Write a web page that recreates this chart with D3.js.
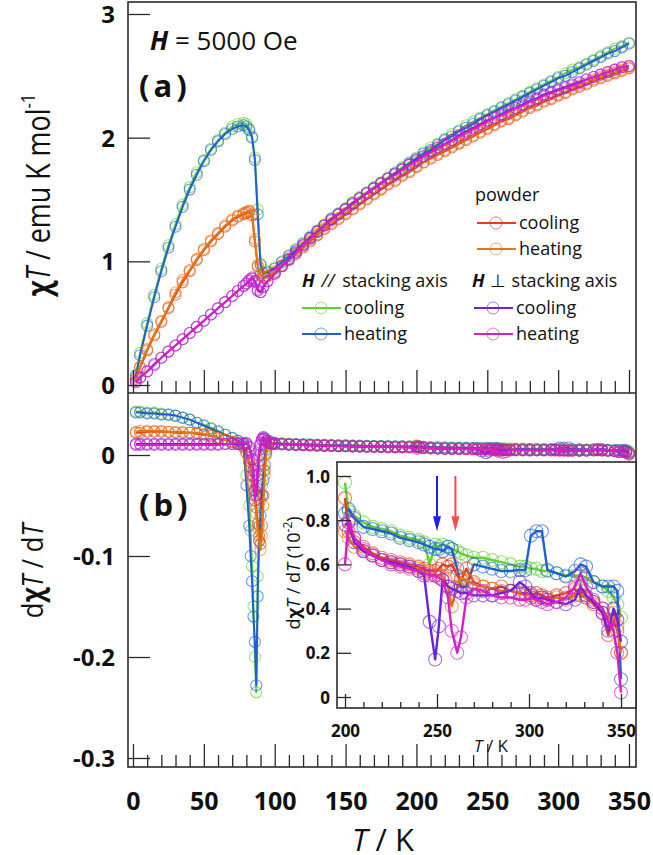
<!DOCTYPE html>
<html>
<head>
<meta charset="utf-8">
<script src="https://cdn.jsdelivr.net/npm/d3@7"></script>
<style>
  body { margin: 0; background: #fff; }
  svg text { font-family: "Open Sans", sans-serif; fill: #111; }
</style>
</head>
<body>
<script>
// ---- panel (a): chi*T vs T ----
var tempA = [2,5,10,15,20,25,30,35,40,45,50,55,60,65,70,74,78,80,82,84,86,88,90,92,95,
  100,105,110,115,120,125,130,135,140,145,150,155,160,165,170,175,180,185,190,195,
  200,205,210,215,220,225,230,235,240,245,250,255,260,265,270,275,280,285,290,295,
  300,305,310,315,320,325,330,335,340,345,350];

var chiT_paraCool = [0.08,0.26,0.50,0.73,0.94,1.13,1.30,1.46,1.60,1.72,1.82,1.91,1.98,2.04,2.09,2.11,2.12,2.11,2.07,2.01,1.84,1.42,0.98,0.91,0.92,
  0.95,1.00,1.05,1.10,1.15,1.20,1.25,1.30,1.35,1.39,1.43,1.48,1.52,1.56,1.60,1.64,1.68,1.72,1.76,1.80,
  1.84,1.88,1.92,1.95,1.99,2.03,2.06,2.10,2.13,2.16,2.19,2.22,2.25,2.28,2.31,2.34,2.37,2.40,2.43,2.46,
  2.49,2.52,2.55,2.57,2.60,2.63,2.66,2.69,2.72,2.74,2.77];
var chiT_paraHeat = [0.07,0.24,0.48,0.71,0.92,1.11,1.28,1.44,1.58,1.70,1.81,1.90,1.97,2.03,2.07,2.09,2.10,2.09,2.06,2.00,1.82,1.38,0.97,0.90,0.91,
  0.94,0.99,1.04,1.09,1.14,1.19,1.24,1.29,1.34,1.38,1.42,1.47,1.51,1.55,1.59,1.63,1.67,1.71,1.75,1.79,
  1.83,1.87,1.90,1.94,1.98,2.01,2.05,2.08,2.11,2.15,2.18,2.21,2.24,2.27,2.30,2.33,2.36,2.39,2.42,2.45,
  2.48,2.50,2.53,2.56,2.59,2.62,2.65,2.68,2.70,2.73,2.76];
var chiT_powderCool = [0.05,0.14,0.28,0.40,0.51,0.62,0.73,0.83,0.92,1.01,1.09,1.16,1.22,1.28,1.33,1.36,1.38,1.39,1.40,1.37,1.16,0.96,0.89,0.87,0.88,
  0.91,0.96,1.01,1.06,1.11,1.16,1.21,1.26,1.30,1.34,1.38,1.42,1.46,1.50,1.54,1.58,1.62,1.65,1.69,1.72,
  1.76,1.80,1.83,1.86,1.89,1.92,1.95,1.98,2.01,2.04,2.07,2.10,2.13,2.15,2.18,2.21,2.24,2.26,2.29,2.31,
  2.34,2.36,2.39,2.41,2.43,2.46,2.48,2.50,2.52,2.54,2.56];
var chiT_powderHeat = [0.05,0.15,0.29,0.41,0.52,0.63,0.75,0.85,0.93,1.02,1.10,1.17,1.23,1.29,1.34,1.37,1.39,1.40,1.41,1.38,1.18,0.97,0.89,0.87,0.88,
  0.92,0.97,1.02,1.07,1.12,1.17,1.22,1.27,1.31,1.35,1.39,1.43,1.47,1.51,1.55,1.59,1.63,1.66,1.70,1.73,
  1.77,1.80,1.84,1.87,1.90,1.93,1.96,1.99,2.02,2.05,2.08,2.11,2.14,2.16,2.19,2.22,2.25,2.27,2.30,2.32,
  2.35,2.37,2.40,2.42,2.44,2.47,2.49,2.51,2.53,2.55,2.57];
var chiT_perpCool = [0.03,0.06,0.11,0.17,0.22,0.27,0.32,0.37,0.42,0.47,0.52,0.57,0.62,0.67,0.72,0.76,0.80,0.82,0.84,0.86,0.84,0.77,0.75,0.79,0.84,
  0.90,0.96,1.02,1.08,1.13,1.19,1.24,1.29,1.34,1.38,1.42,1.47,1.51,1.55,1.59,1.63,1.67,1.71,1.74,1.78,
  1.82,1.85,1.89,1.92,1.95,1.98,2.02,2.05,2.08,2.11,2.14,2.16,2.19,2.22,2.24,2.27,2.30,2.32,2.35,2.37,
  2.39,2.41,2.43,2.45,2.47,2.49,2.51,2.53,2.55,2.57,2.58];
var chiT_perpHeat = [0.02,0.06,0.11,0.16,0.22,0.27,0.32,0.37,0.42,0.47,0.52,0.57,0.62,0.67,0.72,0.76,0.80,0.82,0.85,0.87,0.83,0.76,0.75,0.80,0.84,
  0.90,0.96,1.01,1.07,1.13,1.18,1.24,1.29,1.33,1.38,1.42,1.46,1.51,1.55,1.59,1.63,1.67,1.70,1.74,1.78,
  1.81,1.85,1.88,1.92,1.95,1.98,2.01,2.04,2.07,2.10,2.13,2.16,2.18,2.21,2.24,2.26,2.29,2.31,2.34,2.36,
  2.38,2.40,2.42,2.44,2.47,2.49,2.51,2.53,2.55,2.57,2.58];

// ---- panel (b): d(chi*T)/dT below 200 K ----
var tempB = [2,5,10,15,20,25,30,35,40,45,50,55,60,65,70,74,78,
  80,82,83,84,85,86,87,88,89,90,91,92,93,94,96,98,100,
  105,110,115,120,125,130,135,140,145,150,155,160,165,170,175,180,185,190,195];

var dchiT_paraCool = [0.043,0.043,0.042,0.042,0.041,0.040,0.039,0.037,0.035,0.032,0.030,0.027,0.024,0.020,0.017,0.014,0.010,
  -0.020,-0.050,-0.075,-0.110,-0.150,-0.200,-0.235,-0.120,-0.070,-0.045,-0.030,-0.015,0.000,0.008,0.013,0.012,0.012,
  0.0115,0.0112,0.0109,0.0107,0.0105,0.0103,0.0101,0.0099,0.0097,0.0096,0.0094,0.0093,0.0091,0.0090,0.0089,0.0088,0.0087,0.0086,0.0085];
var dchiT_paraHeat = [0.042,0.042,0.041,0.041,0.040,0.040,0.039,0.037,0.035,0.032,0.029,0.026,0.023,0.020,0.017,0.014,0.009,
  -0.030,-0.070,-0.100,-0.125,-0.160,-0.185,-0.228,-0.140,-0.085,-0.060,-0.040,-0.025,-0.010,0.005,0.014,0.012,0.012,
  0.0114,0.0111,0.0108,0.0106,0.0104,0.0102,0.0100,0.0098,0.0096,0.0095,0.0093,0.0092,0.0090,0.0089,0.0088,0.0087,0.0086,0.0085,0.0084];
var dchiT_powderCool = [0.022,0.022,0.023,0.023,0.023,0.023,0.022,0.022,0.022,0.021,0.020,0.019,0.017,0.015,0.013,0.011,0.008,
  0.002,-0.006,-0.012,-0.020,-0.030,-0.040,-0.052,-0.068,-0.080,-0.088,-0.070,-0.040,-0.015,0.002,0.012,0.011,0.011,
  0.0107,0.0104,0.0101,0.0099,0.0096,0.0094,0.0092,0.0090,0.0088,0.0087,0.0085,0.0084,0.0082,0.0081,0.0080,0.0079,0.0078,0.0077,0.0076];
var dchiT_powderHeat = [0.023,0.024,0.024,0.024,0.024,0.023,0.023,0.023,0.022,0.022,0.021,0.019,0.017,0.015,0.013,0.011,0.008,
  0.002,-0.008,-0.015,-0.025,-0.035,-0.045,-0.058,-0.072,-0.085,-0.094,-0.080,-0.050,-0.020,0.000,0.012,0.012,0.011,
  0.0108,0.0105,0.0102,0.0100,0.0097,0.0095,0.0093,0.0091,0.0089,0.0087,0.0086,0.0084,0.0083,0.0081,0.0080,0.0079,0.0078,0.0077,0.0076];
var dchiT_perpCool = [0.011,0.011,0.011,0.011,0.011,0.011,0.011,0.011,0.011,0.011,0.011,0.011,0.011,0.011,0.011,0.011,0.011,
  0.011,0.008,0.004,-0.004,-0.015,-0.035,-0.040,-0.020,0.000,0.010,0.015,0.017,0.016,0.014,0.012,0.011,0.011,
  0.0106,0.0103,0.0100,0.0098,0.0096,0.0094,0.0092,0.0090,0.0088,0.0087,0.0085,0.0084,0.0082,0.0081,0.0080,0.0079,0.0078,0.0078,0.0077];
var dchiT_perpHeat = [0.010,0.010,0.010,0.010,0.010,0.010,0.010,0.010,0.010,0.010,0.010,0.010,0.010,0.011,0.011,0.012,0.012,
  0.012,0.008,0.002,-0.005,-0.020,-0.045,-0.030,-0.010,0.005,0.012,0.016,0.018,0.016,0.014,0.012,0.011,0.011,
  0.0105,0.0102,0.0100,0.0097,0.0095,0.0093,0.0091,0.0089,0.0087,0.0086,0.0084,0.0083,0.0081,0.0080,0.0079,0.0078,0.0077,0.0076,0.0075];

// ---- inset: d(chi*T)/dT from 200 K, in units of 10^-2 ----
var tempInset = [200,202,205,210,215,220,225,230,235,240,243,246,249,251,253,256,258,261,263,266,
  270,275,280,285,290,295,298,301,304,307,310,315,320,325,328,331,335,340,343,346,348,350];

var inset_paraCool = [0.97,0.84,0.82,0.79,0.77,0.76,0.75,0.73,0.72,0.71,0.70,0.60,0.69,0.68,0.69,0.68,0.67,0.66,0.65,0.64,
  0.63,0.63,0.62,0.61,0.60,0.59,0.59,0.58,0.58,0.57,0.57,0.56,0.55,0.55,0.55,0.54,0.52,0.50,0.48,0.45,0.42,0.36];
var inset_paraHeat = [0.83,0.85,0.81,0.77,0.76,0.75,0.74,0.72,0.71,0.70,0.69,0.68,0.67,0.67,0.66,0.68,0.67,0.58,0.50,0.50,
  0.60,0.59,0.58,0.57,0.57,0.575,0.575,0.73,0.75,0.75,0.575,0.56,0.545,0.57,0.60,0.59,0.52,0.50,0.50,0.50,0.48,0.08];
var inset_powderCool = [0.90,0.75,0.72,0.68,0.65,0.63,0.62,0.61,0.60,0.59,0.58,0.57,0.57,0.58,0.60,0.59,0.60,0.55,0.53,0.58,
  0.52,0.50,0.49,0.50,0.48,0.47,0.47,0.46,0.47,0.46,0.45,0.46,0.47,0.49,0.46,0.45,0.42,0.38,0.28,0.35,0.30,0.20];
var inset_powderHeat = [0.75,0.72,0.68,0.66,0.64,0.62,0.61,0.60,0.59,0.58,0.57,0.56,0.55,0.55,0.55,0.50,0.41,0.50,0.54,0.53,
  0.51,0.50,0.49,0.48,0.48,0.47,0.46,0.46,0.45,0.45,0.44,0.45,0.44,0.46,0.48,0.45,0.43,0.40,0.35,0.38,0.32,0.20];
var inset_perpCool = [0.78,0.79,0.70,0.66,0.64,0.62,0.61,0.60,0.59,0.57,0.55,0.34,0.17,0.32,0.53,0.50,0.49,0.48,0.47,0.47,
  0.46,0.46,0.46,0.47,0.48,0.52,0.50,0.47,0.44,0.45,0.44,0.43,0.42,0.44,0.50,0.46,0.43,0.38,0.30,0.40,0.35,0.25];
var inset_perpHeat = [0.60,0.80,0.72,0.67,0.64,0.62,0.60,0.59,0.58,0.57,0.56,0.55,0.55,0.54,0.53,0.45,0.30,0.20,0.27,0.45,
  0.49,0.48,0.46,0.45,0.45,0.44,0.44,0.45,0.44,0.43,0.42,0.43,0.45,0.50,0.56,0.50,0.44,0.40,0.34,0.30,0.20,0.02];

// arrows in the inset (transition temperatures)
var arrowTemps = [250, 260];
var arrowColors = ["#1f1fee", "#ff4a4a"];

// tick values
var ticksT = d3.range(0, 351, 10);
var ticksA = [0, 1, 2, 3];
var ticksB = [0, -0.1, -0.2, -0.3];
var ticksInsetT = d3.range(200, 351, 10);
var ticksInsetY = [0, 0.2, 0.4, 0.6, 0.8, 1.0];

var colors = {
  powderCool: "#e83a1c", powderHeat: "#e3780f",
  paraCool: "#5fd22b", paraHeat: "#1f5fd6",
  perpCool: "#6c22d8", perpHeat: "#d81fc6"
};

// series table, in drawing order
var series = [
  {key: "paraCool", a: chiT_paraCool, b: dchiT_paraCool, inset: inset_paraCool},
  {key: "paraHeat", a: chiT_paraHeat, b: dchiT_paraHeat, inset: inset_paraHeat},
  {key: "powderCool", a: chiT_powderCool, b: dchiT_powderCool, inset: inset_powderCool},
  {key: "powderHeat", a: chiT_powderHeat, b: dchiT_powderHeat, inset: inset_powderHeat},
  {key: "perpCool", a: chiT_perpCool, b: dchiT_perpCool, inset: inset_perpCool},
  {key: "perpHeat", a: chiT_perpHeat, b: dchiT_perpHeat, inset: inset_perpHeat}
];

var W = 653, H = 855;
var frameL = 128, frameR = 636, topA = 2, midY = 393, botB = 767;
var inL = 337, inT = 462, inB = 708;

var x = d3.scaleLinear().domain([0, 350]).range([133, 629]);
var yA = d3.scaleLinear().domain([0, 3]).range([385, 14]);
var yB = d3.scaleLinear().domain([0, -0.3]).range([455, 758]);
var xIn = d3.scaleLinear().domain([200, 350]).range([345, 621]);
var yIn = d3.scaleLinear().domain([0, 1]).range([697, 476]);

var svg = d3.select("body").append("svg")
  .attr("width", W).attr("height", H);

var defs = svg.append("defs");
function addClip(id, x0, y0, w, h) {
  defs.append("clipPath").attr("id", id).append("rect")
    .attr("x", x0).attr("y", y0).attr("width", w).attr("height", h);
}
addClip("clipA", frameL, topA, frameR - frameL, midY - topA);
addClip("clipB", frameL, midY, frameR - frameL, botB - midY);
addClip("clipIn", inL, inT, frameR - inL, inB - inT);

function drawSeries(g, xs, ys, temps, vals, color, r, lw) {
  var pts = temps.map(function(t, i) { return [t, vals[i]]; });
  g.append("g").selectAll("circle")
    .data(pts)
    .enter()
    .append("circle")
    .attr("cx", function(d) { return xs(d[0]); })
    .attr("cy", function(d) { return ys(d[1]); })
    .attr("r", r)
    .attr("fill", "none")
    .attr("stroke", color)
    .attr("stroke-opacity", 0.65)
    .attr("stroke-width", 1.1);
  g.append("path")
    .datum(pts)
    .attr("d", d3.line().x(function(d) { return xs(d[0]); }).y(function(d) { return ys(d[1]); }))
    .attr("fill", "none")
    .attr("stroke", color)
    .attr("stroke-width", lw)
    .attr("stroke-linejoin", "round");
}

// panel a data
var gA = svg.append("g").attr("clip-path", "url(#clipA)");
series.forEach(function(s) {
  drawSeries(gA, x, yA, tempA, s.a, colors[s.key], 5.5, 2);
});

// panel b data: low-T part plus the inset data rescaled to absolute units
var gB = svg.append("g").attr("clip-path", "url(#clipB)");
series.forEach(function(s) {
  var temps = tempB.concat(tempInset);
  var vals = s.b.concat(s.inset.map(function(v) { return v / 100; }));
  drawSeries(gB, x, yB, temps, vals, colors[s.key], 5.5, 2);
});

// frames
svg.append("rect").attr("x", frameL).attr("y", topA)
  .attr("width", frameR - frameL).attr("height", botB - topA)
  .attr("fill", "none").attr("stroke", "#2a2a2a").attr("stroke-width", 1.6);
svg.append("line").attr("x1", frameL).attr("x2", frameR).attr("y1", midY).attr("y2", midY)
  .attr("stroke", "#2a2a2a").attr("stroke-width", 1.6);

function styleTicks(g, majorEvery, majorLen, minorLen) {
  g.select(".domain").remove();
  g.selectAll(".tick line")
    .attr("stroke", "#2a2a2a").attr("stroke-width", 1.3)
    .attr("y2", function(d) { return (d % majorEvery === 0) ? -majorLen : -minorLen; });
}

// bottom ticks of panel a (no labels)
var axA = svg.append("g").attr("transform", "translate(0," + midY + ")")
  .call(d3.axisBottom(x).tickValues(ticksT).tickFormat(""));
styleTicks(axA, 50, 23, 12);
axA.selectAll(".tick text").remove();

// bottom axis of panel b with labels
var axB = svg.append("g").attr("transform", "translate(0," + botB + ")")
  .call(d3.axisBottom(x).tickValues(ticksT)
    .tickFormat(function(d) { return d % 50 === 0 ? d : ""; }));
styleTicks(axB, 50, 23, 12);
axB.selectAll(".tick text")
  .attr("y", 43).attr("dy", null)
  .style("font-size", "25px").style("font-weight", "bold")
  .style("font-family", "'Open Sans', sans-serif").attr("fill", "#111");

// left axes
function leftAxis(scale, values, fmt) {
  var g = svg.append("g").attr("transform", "translate(" + frameL + ",0)")
    .call(d3.axisLeft(scale).tickValues(values).tickSize(-22).tickPadding(13).tickFormat(fmt));
  g.select(".domain").remove();
  g.selectAll(".tick line").attr("stroke", "#2a2a2a").attr("stroke-width", 1.3);
  g.selectAll(".tick text")
    .attr("dy", "0.36em")
    .style("font-size", "24px").style("font-weight", "bold")
    .style("font-family", "'Open Sans', sans-serif").attr("fill", "#111");
  return g;
}
leftAxis(yA, ticksA, function(d) { return d; });
leftAxis(yB, ticksB, function(d) { return d === 0 ? "0" : d.toFixed(1); });

// ---- inset ----
svg.append("rect").attr("x", inL).attr("y", inT)
  .attr("width", frameR - inL).attr("height", inB - inT)
  .attr("fill", "#fff").attr("stroke", "#2a2a2a").attr("stroke-width", 1.6);

var gIn = svg.append("g").attr("clip-path", "url(#clipIn)");
series.forEach(function(s) {
  drawSeries(gIn, xIn, yIn, tempInset, s.inset, colors[s.key], 6.5, 2.4);
});

var axIn = svg.append("g").attr("transform", "translate(0," + inB + ")")
  .call(d3.axisBottom(xIn).tickValues(ticksInsetT)
    .tickFormat(function(d) { return d % 50 === 0 ? d : ""; }));
styleTicks(axIn, 50, 14, 6);
axIn.selectAll(".tick text")
  .attr("y", 29).attr("dy", null)
  .style("font-size", "17px").style("font-weight", "bold")
  .style("font-family", "'Open Sans', sans-serif").attr("fill", "#111");

var ayIn = svg.append("g").attr("transform", "translate(" + inL + ",0)")
  .call(d3.axisLeft(yIn).tickValues(ticksInsetY).tickSize(-14).tickPadding(7)
    .tickFormat(function(d) { return d === 0 ? "0" : d.toFixed(1); }));
ayIn.select(".domain").remove();
ayIn.selectAll(".tick line").attr("stroke", "#2a2a2a").attr("stroke-width", 1.3);
ayIn.selectAll(".tick text")
  .attr("dy", "0.36em")
  .style("font-size", "17px").style("font-weight", "bold")
  .style("font-family", "'Open Sans', sans-serif").attr("fill", "#111");

// arrows
arrowTemps.forEach(function(t, i) {
  var ax = xIn(t), y0 = yIn(1.0), y1 = yIn(0.75);
  svg.append("line").attr("x1", ax).attr("x2", ax).attr("y1", y0).attr("y2", y1 - 12)
    .attr("stroke", arrowColors[i]).attr("stroke-width", 2);
  svg.append("path")
    .attr("d", "M" + (ax - 4) + "," + (y1 - 15) + "L" + (ax + 4) + "," + (y1 - 15) + "L" + ax + "," + y1 + "Z")
    .attr("fill", arrowColors[i]);
});

// inset labels
svg.append("text").attr("x", 491).attr("y", 752).attr("text-anchor", "middle")
  .style("font-size", "17px")
  .call(function(t) {
    t.append("tspan").style("font-style", "italic").text("T");
    t.append("tspan").text(" / K");
  });
svg.append("text").attr("transform", "translate(300,573) rotate(-90)").attr("text-anchor", "middle")
  .style("font-size", "18px")
  .call(function(t) {
    t.append("tspan").text("d");
    t.append("tspan").style("font-weight", "bold").text("χ");
    t.append("tspan").style("font-style", "italic").text("T");
    t.append("tspan").text(" / d");
    t.append("tspan").style("font-style", "italic").text("T");
    t.append("tspan").text(" (10");
    t.append("tspan").attr("dy", -8).style("font-size", "12px").text("-2");
    t.append("tspan").attr("dy", 8).text(")");
  });

// ---- axis titles and annotations ----
// the titles are squeezed along their length to match the narrow original face
svg.append("text").attr("transform", "translate(50,195) rotate(-90) scale(0.84,1)").attr("text-anchor", "middle")
  .style("font-size", "32px")
  .call(function(t) {
    t.append("tspan").style("font-weight", "bold").text("χ");
    t.append("tspan").style("font-style", "italic").text("T");
    t.append("tspan").text(" / emu K mol");
    t.append("tspan").attr("dy", -15).style("font-size", "20px").text("-1");
  });

svg.append("text").attr("transform", "translate(43,571) rotate(-90) scale(0.85,1)").attr("text-anchor", "middle")
  .style("font-size", "30px")
  .call(function(t) {
    t.append("tspan").text("d");
    t.append("tspan").style("font-weight", "bold").text("χ");
    t.append("tspan").style("font-style", "italic").text("T");
    t.append("tspan").text(" / d");
    t.append("tspan").style("font-style", "italic").text("T");
  });

svg.append("text").attr("x", 383).attr("y", 851).attr("text-anchor", "middle")
  .style("font-size", "31px")
  .call(function(t) {
    t.append("tspan").style("font-style", "italic").text("T");
    t.append("tspan").text(" / K");
  });

svg.append("text").attr("x", 150).attr("y", 50).style("font-size", "26px")
  .call(function(t) {
    t.append("tspan").style("font-weight", "bold").style("font-style", "italic").text("H");
    t.append("tspan").text(" = 5000 Oe");
  });

svg.append("text").attr("x", 139).attr("y", 97).style("font-size", "31px").style("font-weight", "bold")
  .attr("letter-spacing", "4px").text("(a)");
svg.append("text").attr("x", 139).attr("y", 516).style("font-size", "31px").style("font-weight", "bold")
  .attr("letter-spacing", "4px").text("(b)");

// ---- legend ----
var legendItems = [
  {key: "powderCool", label: "cooling", x: 477, y: 223},
  {key: "powderHeat", label: "heating", x: 477, y: 249},
  {key: "paraCool", label: "cooling", x: 302, y: 308},
  {key: "paraHeat", label: "heating", x: 302, y: 334},
  {key: "perpCool", label: "cooling", x: 474, y: 308},
  {key: "perpHeat", label: "heating", x: 474, y: 334}
];
var legend = svg.append("g").style("font-size", "18px");
legendItems.forEach(function(it) {
  var c = colors[it.key];
  legend.append("line").attr("x1", it.x).attr("x2", it.x + 39).attr("y1", it.y).attr("y2", it.y)
    .attr("stroke", c).attr("stroke-width", 2);
  legend.append("circle").attr("cx", it.x + 19).attr("cy", it.y).attr("r", 6)
    .attr("fill", "none").attr("stroke", c).attr("stroke-opacity", 0.6).attr("stroke-width", 1);
  legend.append("text").attr("x", it.x + 42).attr("y", it.y + 6).text(it.label);
});
legend.append("text").attr("x", 475).attr("y", 201).text("powder");
legend.append("text").attr("x", 302).attr("y", 287)
  .call(function(t) {
    t.append("tspan").style("font-weight", "bold").style("font-style", "italic").text("H");
    t.append("tspan").style("font-style", "italic").attr("dx", 7).text("//");
    t.append("tspan").attr("dx", 8).text("stacking axis");
  });
legend.append("text").attr("x", 472).attr("y", 287)
  .call(function(t) {
    t.append("tspan").style("font-weight", "bold").style("font-style", "italic").text("H");
    t.append("tspan").attr("dx", 5).text("⊥");
    t.append("tspan").attr("dx", 6).text("stacking axis");
  });
</script>
</body>
</html>
